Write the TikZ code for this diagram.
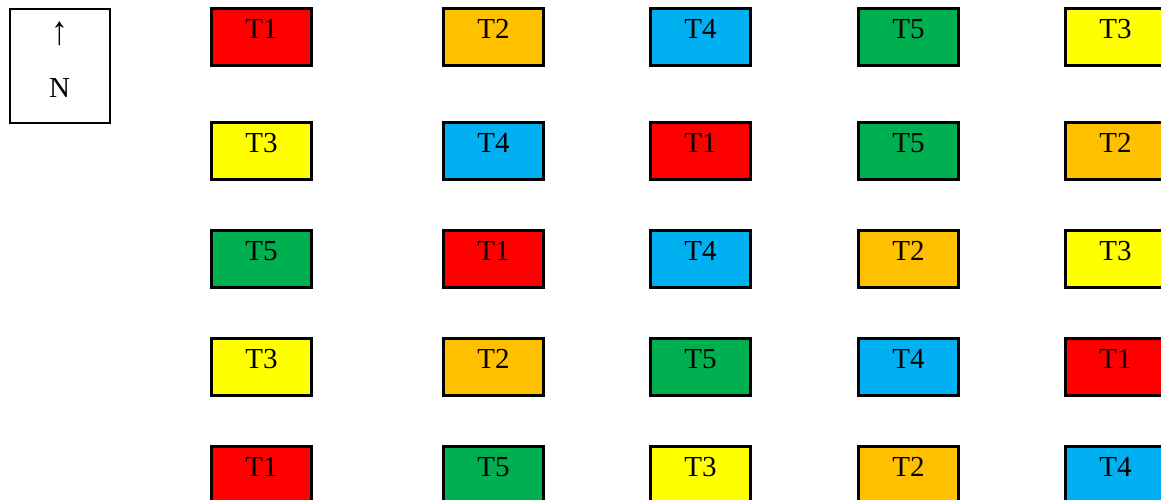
\documentclass[tikz,border=0pt]{standalone}
\usepackage{fontspec}
\setmainfont{Liberation Serif}
\definecolor{cRed}{HTML}{FF0000}
\definecolor{cOrange}{HTML}{FFC000}
\definecolor{cBlue}{HTML}{00B0F0}
\definecolor{cGreen}{HTML}{00B050}
\definecolor{cYellow}{HTML}{FFFF00}
\tikzset{
  plotbox/.style={draw=black, line width=2.4pt, anchor=north west, inner sep=0pt,
    minimum width=100pt, minimum height=57pt, text height=30pt, text depth=27pt,
    font=\fontsize{29}{34}\selectfont},
  compassbox/.style={draw=black, line width=2.2pt, anchor=north west, inner xsep=0pt, inner ysep=0pt,
    minimum width=100pt, minimum height=114.5pt, align=center, text width=100pt,
    text height=36pt, text depth=78.5pt, font=\fontsize{29}{53}\selectfont}
}
\begin{document}
\begin{tikzpicture}[x=1pt,y=-1pt]
\useasboundingbox (0,0) rectangle (1161,499);
\clip (0,0) rectangle (1161,499);
\node[compassbox] (N) at (8.5,7.5) {\scalebox{1.15}[1.4]{↑}\\N};
% columns and rows
\def\cA{210.2}\def\cB{442.2}\def\cC{649.2}\def\cD{857.2}\def\cE{1064.2}
\def\rA{7.3}\def\rB{121.3}\def\rC{229.3}\def\rD{337.3}\def\rE{445.3}
% row 1
\node[plotbox, fill=cRed]    (p11) at (\cA,\rA) {T1};
\node[plotbox, fill=cOrange] (p12) at (\cB,\rA) {T2};
\node[plotbox, fill=cBlue]   (p13) at (\cC,\rA) {T4};
\node[plotbox, fill=cGreen]  (p14) at (\cD,\rA) {T5};
\node[plotbox, fill=cYellow] (p15) at (\cE,\rA) {T3};
% row 2
\node[plotbox, fill=cYellow] (p21) at (\cA,\rB) {T3};
\node[plotbox, fill=cBlue]   (p22) at (\cB,\rB) {T4};
\node[plotbox, fill=cRed]    (p23) at (\cC,\rB) {T1};
\node[plotbox, fill=cGreen]  (p24) at (\cD,\rB) {T5};
\node[plotbox, fill=cOrange] (p25) at (\cE,\rB) {T2};
% row 3
\node[plotbox, fill=cGreen]  (p31) at (\cA,\rC) {T5};
\node[plotbox, fill=cRed]    (p32) at (\cB,\rC) {T1};
\node[plotbox, fill=cBlue]   (p33) at (\cC,\rC) {T4};
\node[plotbox, fill=cOrange] (p34) at (\cD,\rC) {T2};
\node[plotbox, fill=cYellow] (p35) at (\cE,\rC) {T3};
% row 4
\node[plotbox, fill=cYellow] (p41) at (\cA,\rD) {T3};
\node[plotbox, fill=cOrange] (p42) at (\cB,\rD) {T2};
\node[plotbox, fill=cGreen]  (p43) at (\cC,\rD) {T5};
\node[plotbox, fill=cBlue]   (p44) at (\cD,\rD) {T4};
\node[plotbox, fill=cRed]    (p45) at (\cE,\rD) {T1};
% row 5
\node[plotbox, fill=cRed]    (p51) at (\cA,\rE) {T1};
\node[plotbox, fill=cGreen]  (p52) at (\cB,\rE) {T5};
\node[plotbox, fill=cYellow] (p53) at (\cC,\rE) {T3};
\node[plotbox, fill=cOrange] (p54) at (\cD,\rE) {T2};
\node[plotbox, fill=cBlue]   (p55) at (\cE,\rE) {T4};
\end{tikzpicture}
\end{document}
